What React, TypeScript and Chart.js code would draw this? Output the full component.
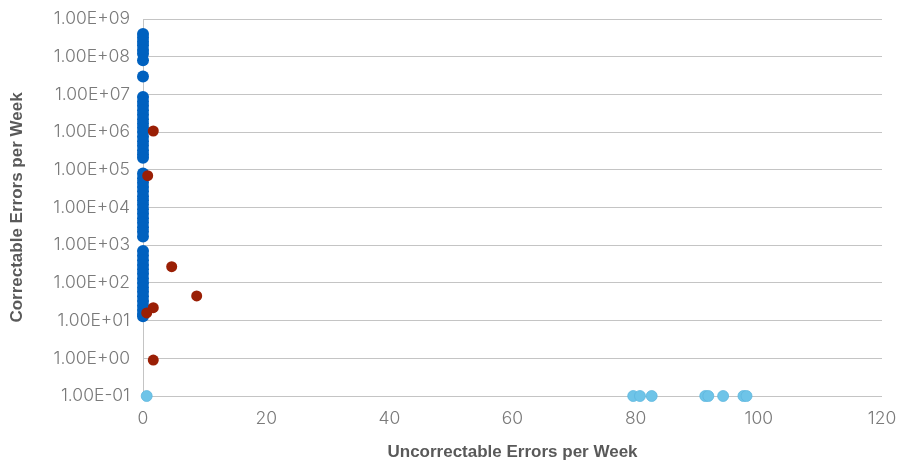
import React, { useEffect, useRef } from "react";
import { Chart, registerables } from "chart.js";

Chart.register(...registerables);

// Series A (dark blue): devices with zero uncorrectable errors
const blueUncorrectable = 0;
const blueCorrectable = [
  4e8, 3.2e8, 2.5e8, 2e8, 1.5e8, 1.2e8, 8e7, 3e7,
  8.5e6, 6.5e6, 5e6, 3.8e6, 2.9e6, 2.2e6, 1.7e6, 1.3e6, 1e6, 7.5e5, 5.7e5, 4.4e5, 3.3e5, 2.6e5, 2.1e5,
  8e4, 6e4, 4.6e4, 3.5e4, 2.7e4, 2e4, 1.55e4, 1.2e4, 9e3, 6.8e3, 5.2e3, 4e3, 3e3, 2.3e3, 1.7e3,
  7e2, 5.3e2, 4e2, 3e2, 2.3e2, 1.75e2, 1.3e2, 1e2, 76, 58, 44, 33, 25, 19, 15, 13,
];

// Series B (dark red)
const redUncorrectable = [1.67, 0.76, 4.66, 8.72, 1.67, 0.6, 1.67];
const redCorrectable = [1.07e6, 7e4, 270, 45, 22, 16, 0.9];

// Series C (light blue): zero correctable errors, plotted at 0.1
const lightUncorrectable = [0.6, 79.6, 80.7, 82.6, 91.3, 91.8, 94.2, 97.5, 98.0];
const lightCorrectable = 0.1;

const yTickValues = [1e-1, 1e0, 1e1, 1e2, 1e3, 1e4, 1e5, 1e6, 1e7, 1e8, 1e9];
const xTitle = "Uncorrectable Errors per Week";
const yTitle = "Correctable Errors per Week";

function fmtExp(v: number): string {
  const e = Math.round(Math.log10(v));
  const m = v / Math.pow(10, e);
  const sign = e < 0 ? "-" : "+";
  const ab = Math.abs(e);
  return m.toFixed(2) + "E" + sign + (ab < 10 ? "0" + ab : String(ab));
}

export default function App() {
  const ref = useRef<HTMLCanvasElement>(null);
  useEffect(() => {
    document.body.style.margin = "0";
    const canvas = ref.current;
    if (!canvas) return;
    const tickFont = { family: "Inter", size: 17.5, weight: 300 as any };
    const titleFont = { family: "'Liberation Sans'", size: 17, weight: "bold" as any };
    const chart = new Chart(canvas, {
      type: "scatter",
      data: {
        datasets: [
          {
            label: "B",
            data: redUncorrectable.map((x, i) => ({ x, y: redCorrectable[i] })),
            backgroundColor: "#9a1f05",
            borderColor: "#9a1f05",
            borderWidth: 0,
            pointRadius: 5.5,
            clip: false as any,
          },
          {
            label: "C",
            data: lightUncorrectable.map((x) => ({ x, y: lightCorrectable })),
            backgroundColor: "#6ec4e8",
            borderColor: "#5cb6de",
            borderWidth: 0.75,
            pointRadius: 5.5,
            clip: false as any,
          },
          {
            label: "A",
            data: blueCorrectable.map((y) => ({ x: blueUncorrectable, y })),
            backgroundColor: "#0061bf",
            borderColor: "#0061bf",
            borderWidth: 0,
            pointRadius: 6,
            clip: false as any,
          },
        ],
      },
      options: {
        responsive: false,
        animation: false,
        events: [],
        layout: { padding: { left: 0, right: 16, top: 19, bottom: 0 } },
        plugins: { legend: { display: false }, tooltip: { enabled: false } },
        scales: {
          x: {
            type: "linear",
            min: 0,
            max: 120,
            ticks: { stepSize: 20, color: "#7a7a7a", font: tickFont, padding: 12, maxRotation: 0 },
            grid: { display: false, drawTicks: false },
            border: { display: false },
            title: {
              display: true,
              text: xTitle,
              color: "#595959",
              font: titleFont,
              padding: { top: 0, bottom: -2 },
            },
            afterFit: (s: any) => {
              s.height = 65;
              s.paddingLeft = 0;
              s.paddingRight = 0;
            },
          },
          y: {
            type: "logarithmic",
            min: 0.1,
            max: 1e9,
            afterBuildTicks: (s: any) => {
              s.ticks = yTickValues.map((v) => ({ value: v }));
            },
            ticks: {
              color: "#7a7a7a",
              font: tickFont,
              padding: 13,
              autoSkip: false,
              callback: (v: any) => fmtExp(Number(v)),
            },
            grid: { color: "#c4c4c4", lineWidth: 1, drawTicks: false },
            border: { display: true, color: "#c4c4c4", width: 1 },
            title: {
              display: true,
              text: yTitle,
              color: "#595959",
              font: titleFont,
              padding: { top: 7, bottom: 0 },
            },
            afterFit: (s: any) => {
              s.width = 143;
              s.paddingTop = 0;
              s.paddingBottom = 0;
            },
          },
        },
      },
    });
    return () => chart.destroy();
  }, []);
  return <canvas ref={ref} width={898} height={461} style={{ display: "block" }} />;
}
